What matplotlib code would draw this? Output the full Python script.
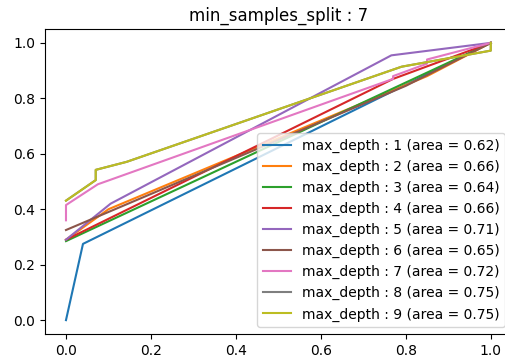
import matplotlib
matplotlib.use("Agg")
import matplotlib.pyplot as plt

title = "min_samples_split : 7"
depths = [1, 2, 3, 4, 5, 6, 7, 8, 9]
areas = [0.62, 0.66, 0.64, 0.66, 0.71, 0.65, 0.72, 0.75, 0.75]

fpr_1 = [0.0, 0.04, 1.0]
tpr_1 = [0.0, 0.275, 1.0]
fpr_2 = [0.0, 0.10, 0.85, 1.0]
tpr_2 = [0.29, 0.40, 0.88, 1.0]
fpr_3 = [0.0, 1.0]
tpr_3 = [0.285, 1.0]
fpr_4 = [0.0, 0.77, 1.0]
tpr_4 = [0.29, 0.87, 1.0]
fpr_5 = [0.0, 0.105, 0.766, 1.0]
tpr_5 = [0.29, 0.42, 0.955, 1.0]
fpr_6 = [0.0, 0.10, 0.80, 1.0]
tpr_6 = [0.325, 0.39, 0.845, 1.0]
fpr_7 = [0.0, 0.0, 0.075, 0.77, 0.77, 0.85, 0.85, 1.0]
tpr_7 = [0.36, 0.415, 0.49, 0.87, 0.88, 0.925, 0.94, 1.0]
fpr_8 = [0.0, 0.07, 0.07, 0.143, 0.79, 1.0, 1.0]
tpr_8 = [0.431, 0.505, 0.542, 0.571, 0.914, 0.972, 1.0]
fpr_9 = [0.0, 0.07, 0.07, 0.143, 0.79, 1.0, 1.0]
tpr_9 = [0.431, 0.505, 0.542, 0.571, 0.914, 0.972, 1.0]

fprs = [fpr_1, fpr_2, fpr_3, fpr_4, fpr_5, fpr_6, fpr_7, fpr_8, fpr_9]
tprs = [tpr_1, tpr_2, tpr_3, tpr_4, tpr_5, tpr_6, tpr_7, tpr_8, tpr_9]

fig = plt.figure(figsize=(5.06, 3.60), dpi=100)
ax = fig.add_axes([44.75 / 506, 26 / 360, 467.25 / 506, 305 / 360])
for d, a, fx, ty in zip(depths, areas, fprs, tprs):
    ax.plot(fx, ty, label=f"max_depth : {d} (area = {a:.2f})")
ax.set_title(title, fontsize=12)
ax.legend(loc="lower right", fontsize=10)
fig.savefig("out.png", dpi=100)
